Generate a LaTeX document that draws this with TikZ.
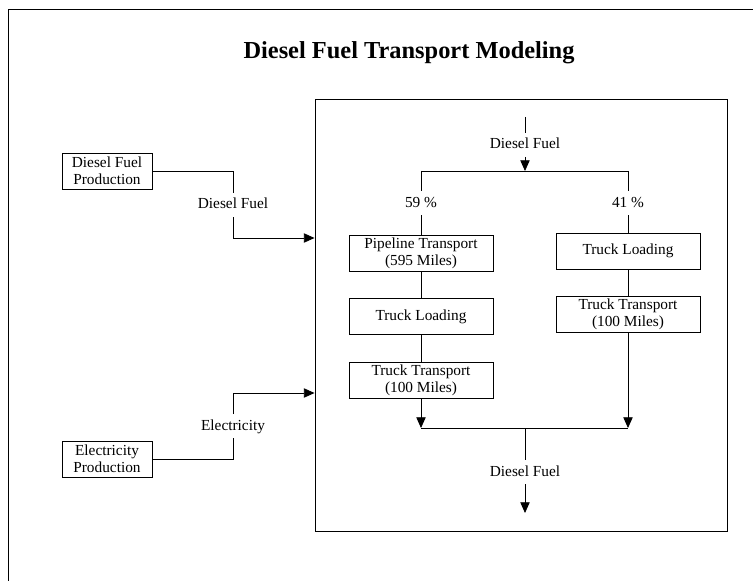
\documentclass[tikz,border=0pt]{standalone}
\usepackage{fontspec}
\setmainfont{Liberation Serif}
\usepackage{tikz}
\usetikzlibrary{positioning,arrows.meta}

\begin{document}
\begin{tikzpicture}[
  x=0.75pt, y=-0.75pt,
  stage/.style={draw, line width=0.6pt, minimum width=108pt,
                minimum height=27pt, align=center, inner sep=1pt,
                font=\fontsize{11.5}{12.75}\selectfont},
  source/.style={stage, minimum width=67.5pt},
  flow/.style={inner sep=0pt, text height=8pt, text depth=2pt,
               outer sep=4pt, font=\fontsize{11.5}{12.75}\selectfont},
  arr/.style={-{Triangle[length=8pt,width=7pt]}, line width=0.6pt},
  line width=0.6pt,
  node distance=20.25pt
]
\useasboundingbox (0,0) rectangle (753,581);
\draw (8,581) -- (8,9) -- (753,9);
\node[font=\fontsize{18.3}{20}\selectfont\bfseries] (title) at (409,53)
  {Diesel Fuel Transport Modeling};

% transport system
\node[draw, line width=0.7pt, minimum width=309pt, minimum height=324pt]
  (frame) at (521,315) {};
\coordinate (fuelin) at (525,117);
\node[flow] (inlbl) at (525,145) {Diesel Fuel};
\coordinate (split) at (525,171);
\node[stage] (pipe) at (421,253) {Pipeline Transport\\(595 Miles)};
\node[stage, below=of pipe] (loadL) {Truck Loading};
\node[stage, below=of loadL] (truckL) {Truck Transport\\(100 Miles)};
\node[stage] (loadR) at (628,251) {Truck Loading};
\node[stage, below=of loadR] (truckR) {Truck Transport\\(100 Miles)};
\node[flow] (pctL) at (421,203) {59 \%};
\node[flow] (pctR) at (628,203) {41 \%};
\coordinate (merge) at (525,428);
\node[flow] (outlbl) at (525,472) {Diesel Fuel};
\coordinate (fuelout) at (525,513);

\draw (fuelin) -- (inlbl);
\draw[arr] (inlbl) -- (split);
\draw (pipe.north |- split) -- (loadR.north |- split);
\draw (pipe.north |- split) -- (pctL);
\draw (pctL) -- (pipe);
\draw (loadR.north |- split) -- (pctR);
\draw (pctR) -- (loadR);
\draw (pipe) -- (loadL);
\draw (loadL) -- (truckL);
\draw (loadR) -- (truckR);
\draw[arr] (truckL) -- (truckL.south |- merge);
\draw[arr] (truckR) -- (truckR.south |- merge);
\draw (truckL.south |- merge) -- (truckR.south |- merge);
\draw (merge) -- (outlbl);
\draw[arr] (outlbl) -- (fuelout);

% inputs
\node[source] (dfp) at (107,171) {Diesel Fuel\\Production};
\node[flow] (dflbl) at (233,205) {Diesel Fuel};
\node[source] (elp) at (107,459) {Electricity\\Production};
\node[flow] (ellbl) at (233,426) {Electricity};
\draw (dfp.east) -| (dflbl);
\draw[arr] (dflbl) |- (frame.west |- 0,238);
\draw (elp.east) -| (ellbl);
\draw[arr] (ellbl) |- (frame.west |- 0,393);
\end{tikzpicture}
\end{document}
